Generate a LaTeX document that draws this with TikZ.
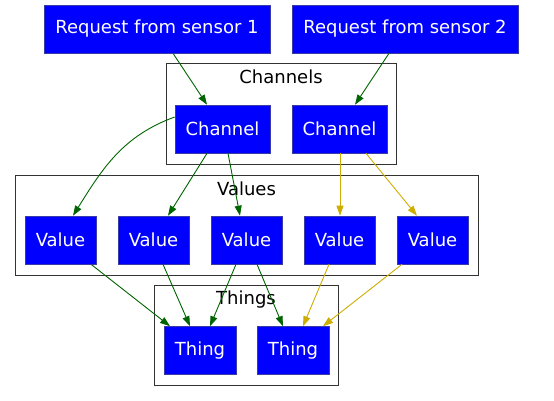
\documentclass[tikz,border=0pt]{standalone}
\usepackage{fontspec}
\setmainfont{DejaVu Sans}
\definecolor{gBlue}{HTML}{0000FF}
\definecolor{gEdge}{HTML}{3A3AA8}
\definecolor{gGreen}{HTML}{006400}
\definecolor{gGold}{HTML}{CDAD00}
\definecolor{gFrame}{HTML}{333333}
\usetikzlibrary{arrows.meta}

\begin{document}
\begin{tikzpicture}[x=1pt, y=-1pt,
  n/.style={draw=gEdge, line width=0.6pt, fill=gBlue, text=white,
            inner sep=0pt, minimum height=48pt, font=\fontsize{18}{21}\selectfont},
  cl/.style={draw=gFrame, line width=1.3pt, inner sep=0pt},
  lbl/.style={font=\fontsize{18}{21}\selectfont, inner sep=0pt},
  e/.style={-{Triangle[length=10pt, width=7pt]}, line width=0.9pt}]
  \useasboundingbox (0,0) rectangle (554,401);
  % clusters
  \node[cl, minimum width=230pt, minimum height=101pt] (chanbox) at (281.5,114) {};
  \node[cl, minimum width=463pt, minimum height=100pt] (valbox) at (247,225.5) {};
  \node[cl, minimum width=184pt, minimum height=100pt] (thingbox) at (246.5,335.5) {};
  \node[lbl] (chanlbl) at (281,77) {Channels};
  \node[lbl] (vallbl) at (246.5,189) {Values};
  \node[lbl] (thinglbl) at (246,300) {Things};
  % requests
  \node[n, minimum width=226pt] (r1) at (157,29) {Request from sensor 1};
  \node[n, minimum width=226pt] (r2) at (405,29) {Request from sensor 2};
  % channels
  \node[n, minimum width=95pt] (c1) at (222.5,129) {Channel};
  \node[n, minimum width=95pt] (c2) at (339.5,129) {Channel};
  % values
  \foreach \i/\x in {1/60.5,2/153.5,3/246.5,4/339.5,5/432.5}
    \node[n, minimum width=71pt] (v\i) at (\x,240) {Value};
  % things
  \node[n, minimum width=72pt] (t1) at (200,350.5) {Thing};
  \node[n, minimum width=72pt] (t2) at (293,350.5) {Thing};
  % edges
  \draw[e, gGreen] ([yshift=12pt]c1.west) to[out=200, in=58] ([xshift=12.5pt]v1.north);
  \foreach \a/\sa/\b/\sb/\c in {r1.south/16/c1.north/-15.5/gGreen,
      r2.south/-16/c2.north/15.5/gGreen,
      c1.south/-15.5/v2.north/14.5/gGreen,
      c1.south/5.5/v3.north/-6.5/gGreen,
      c2.south/0.5/v4.north/0.5/gGold,
      c2.south/26.5/v5.north/-15.5/gGold,
      v1.south/30.5/t1.north/-30/gGreen,
      v2.south/9.5/t1.north/-10/gGreen,
      v3.south/-10.5/t1.north/10/gGreen,
      v3.south/10.5/t2.north/-10/gGreen,
      v4.south/-10.5/t2.north/10/gGold,
      v5.south/-30.5/t2.north/30/gGold}
    \draw[e, \c] ([xshift=\sa pt]\a) -- ([xshift=\sb pt]\b);
\end{tikzpicture}
\end{document}
